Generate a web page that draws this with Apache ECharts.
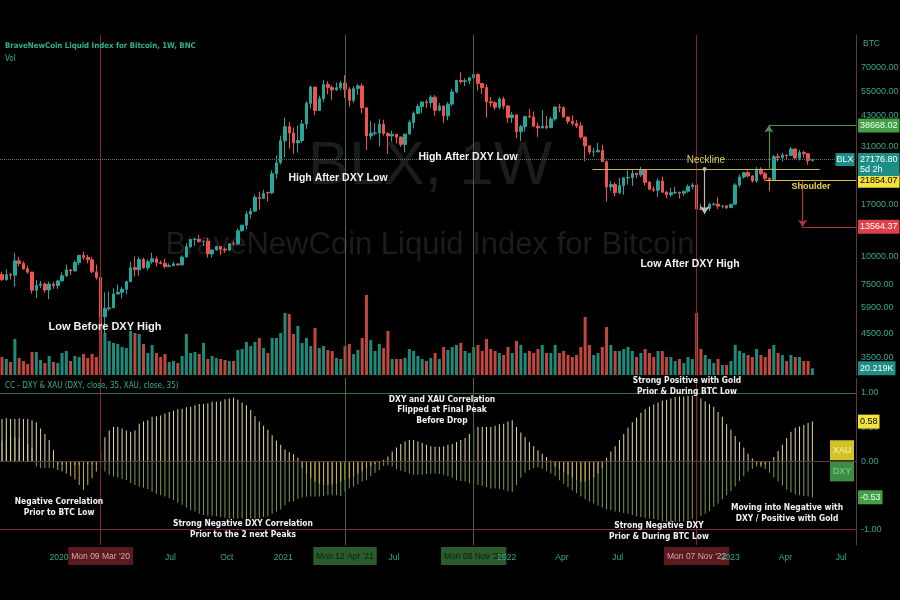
<!DOCTYPE html>
<html><head><meta charset="utf-8">
<script src="https://cdn.jsdelivr.net/npm/echarts@6.0.0/dist/echarts.min.js"></script>
<style>html,body{margin:0;padding:0;background:#000}#c{width:900px;height:600px}</style>
</head><body><div id="c"></div>
<script>
// ---------- DATA ----------
const firstWeek = '2019-09-30'; // weekly candles, Monday opens
// [open, high, low, close]
const ohlc = [
[8290,8540,7760,7860],[7860,8750,7780,8280],[8280,8420,7880,8230],[8230,10370,7300,9550],[9550,9940,9000,9300],
[9300,9500,8700,8800],[8800,9100,8350,8500],[8500,8500,6800,7050],[7050,7850,6500,7420],[7420,7750,7200,7510],
[7510,7620,6860,7070],[7070,7700,6430,7510],[7510,7700,7150,7390],[7390,7850,7140,7760],[7760,8480,7740,8180],
[8180,9190,8110,8700],[8700,8750,8250,8600],[8600,9570,8580,9380],[9380,10160,9150,10100],[10100,10500,9650,9900],
[9900,10180,9300,9650],[9650,9960,8420,8530],[8530,9190,7860,8040],[8040,8160,3850,5360],[5360,6900,4450,5830],
[5830,6970,5700,5880],[5880,7200,5860,6780],[6780,7470,6750,6900],[6900,7300,6470,7120],[7120,7770,6750,7700],
[7700,9470,7670,8900],[8900,10000,8130,8720],[8720,9950,8200,9680],[9680,9850,8800,8900],[8900,9700,8650,9450],
[9450,10380,9260,9750],[9750,9990,9000,9380],[9380,9590,9210,9290],[9290,9780,8830,9010],[9010,9310,8940,9080],
[9080,9460,9050,9250],[9250,9310,9030,9160],[9160,10120,9130,9930],[9930,11450,9900,11050],[11050,11900,10940,11900],
[11900,12080,11140,11910],[11910,12470,11520,11650],[11650,11790,11160,11700],[11700,12090,9880,10260],[10260,10770,9880,10680],
[10680,11170,10630,11080],[11080,11090,10140,10770],[10770,10960,10370,10670],[10670,11480,10530,11390],[11390,11720,11220,11370],
[11370,13350,11300,13030],[13030,13860,12900,13800],[13800,15960,13200,15480],[15480,16480,14800,15960],[15960,18960,15800,18400],
[18400,19480,16200,18190],[18190,19900,18100,19150],[19380,19420,17620,19270],[19270,24300,19000,23480],[23480,28400,22300,26280],
[26280,34800,25850,33000],[33000,41950,27700,38200],[38200,40100,30400,35800],[35800,37850,28900,32300],[32300,38550,29200,33100],
[33100,40950,32300,39250],[39250,49700,37350,48580],[48580,58350,46000,57490],[57490,57500,43000,45140],[45140,52650,44950,51000],
[51000,61800,49300,59000],[59000,61200,53300,57300],[57300,58420,50300,55800],[55800,60200,55400,57100],[57100,61300,55600,59900],
[59900,64850,51300,56200],[56200,57500,47000,50100],[50100,58000,48800,56600],[56600,59500,53000,58200],[58200,59600,43800,46400],
[46400,46600,30000,34700],[34700,40400,33400,35700],[35700,39500,34800,35800],[35800,41300,31100,39100],[39100,41000,34800,35600],
[35600,36000,28800,34700],[34700,36600,32700,35300],[35300,35300,32100,34300],[34300,34500,31000,31800],[31800,35400,29300,35400],
[35400,40900,35300,39900],[39900,44700,37500,43800],[43800,48100,43500,47000],[47000,49400,43900,49300],[49300,50500,46400,48900],
[48900,52900,46500,51800],[51800,52800,42800,45200],[45200,48800,44700,47300],[47300,47400,39600,42700],[42700,49200,40800,48200],
[48200,56500,47100,54700],[54700,62000,53900,61500],[61500,67000,59500,60900],[60900,63000,58000,61300],[61300,63500,59400,63300],
[63300,69000,62300,65500],[65500,66300,55600,59700],[59700,59900,53500,57200],[57200,59200,42000,49400],[49400,51900,47000,48900],
[48900,49500,45500,46700],[46700,51900,45600,50800],[50800,52000,45700,47300],[47300,47500,39700,41900],[41900,44400,39700,43100],
[43100,43500,34000,36300],[36300,38900,32900,38200],[38200,42600,36300,42400],[42400,45800,41700,42200],[42200,44700,38000,38400],
[38400,39800,34300,37700],[37700,45400,37500,38400],[38400,42600,37200,37800],[37800,42300,37600,41300],[41300,47000,40500,46800],
[46800,48200,44300,46400],[46400,47200,41900,42200],[42200,42400,39200,40400],[40400,42900,38600,39500],[39500,40800,37700,38500],
[38500,40000,33700,34300],[34300,34400,26700,31300],[31300,31400,28700,29400],[29400,30600,28000,29450],[29450,32300,29300,29900],
[29900,31700,26560,26600],[26600,26900,17600,20500],[20500,21800,19600,21000],[21000,21500,18600,19300],[19300,22500,19000,20800],
[20800,22600,18900,22500],[22500,24300,21000,22600],[22600,24600,20700,23600],[23600,23700,22400,23200],[23200,25200,22700,24400],
[24400,24500,20800,21500],[21500,21800,19800,20000],[20000,20600,19500,19800],[19800,22400,18500,21800],[21800,22800,19300,19400],
[19400,19700,18200,18900],[18900,20300,18500,19300],[19300,20500,19000,19400],[19400,19500,18200,19200],[19200,19700,18700,19600],
[19600,21000,19300,20600],[20600,21400,20000,20900],[20900,21000,15600,16300],[16300,17200,16200,16250],[16250,16800,15500,16400],
[16400,17400,16000,17100],[17100,17400,16900,17150],[17150,18400,16300,16800],[16800,16950,16400,16850],[16850,16900,16300,16550],
[16550,17200,16500,17130],[17130,21300,17100,20880],[20880,23300,20400,22700],[22700,23900,22300,23750],[23750,24300,22600,22950],
[22950,23100,21400,21800],[21800,25200,21400,24600],[24600,25100,23100,23500],[23500,23900,21900,22400],[22400,22600,19600,22100],
[22100,28500,21900,28000],[28000,28900,26600,27750],[27750,29200,26600,28450],[28450,28800,27300,28330],[28330,31000,28200,30300],
[30300,30500,27100,27600],[27600,30000,26950,29250],[29250,29800,27700,28900],[28900,29000,25800,26900],[26900,27400,26600,27176.8]
];
// weekly volume, thousands
const volumeK = [
54,48,39,108,51,42,33,69,69,45, 36,57,39,36,66,72,42,57,54,63,
51,63,54,225,126,102,96,93,84,81, 132,126,123,93,66,90,66,54,63,39,
42,36,57,123,66,69,63,96,48,57, 51,48,45,42,42,75,78,99,87,99,
111,81,66,111,111,126,186,183,123,147, 96,111,87,141,81,87,75,72,51,48,
87,93,63,75,111,240,105,72,93,81, 132,48,48,48,51,78,72,57,48,42,
51,66,48,84,75,84,90,96,72,66, 84,90,72,108,78,72,66,60,84,66,
102,90,66,72,66,78,90,66,66,90, 66,72,60,54,60,84,174,90,60,66,
84,144,90,72,72,78,84,72,54,66, 78,66,54,72,72,54,54,42,48,36,
54,48,186,78,60,48,36,48,30,30, 42,90,72,66,60,54,78,60,54,78,
90,66,60,42,60,54,54,42,42,20.219
];
// correlation coefficient BTC vs XAU and BTC vs DXY (35)
const corrXAU = [
0.62,0.63,0.62,0.62,0.63,0.62,0.62,0.60,0.57,0.48, 0.40,0.31,0.16,-0.13,-0.15,-0.18,-0.22,-0.27,-0.35,-0.42,
-0.35,-0.25,-0.15,0.16,0.35,0.45,0.50,0.50,0.48,0.45, 0.43,0.45,0.55,0.58,0.60,0.65,0.66,0.67,0.70,0.72,
0.74,0.76,0.77,0.79,0.80,0.82,0.84,0.84,0.85,0.87, 0.87,0.88,0.91,0.92,0.93,0.90,0.86,0.82,0.75,0.66,
0.58,0.52,0.46,0.38,0.30,0.24,0.17,0.13,0.10,0.05, -0.10,-0.18,-0.25,-0.30,-0.33,-0.35,-0.35,-0.34,-0.33,-0.30,
-0.28,-0.25,-0.22,-0.18,-0.14,-0.10,-0.07,-0.04,-0.02,0.02, 0.07,0.14,0.20,0.25,0.29,0.31,0.31,0.29,0.27,0.24,
0.22,0.21,0.21,0.22,0.24,0.25,0.28,0.31,0.34,0.40, 0.46,0.50,0.50,0.50,0.50,0.52,0.54,0.55,0.58,0.60,
0.50,0.42,0.35,0.28,0.22,0.16,0.11,0.06,0.01,-0.08, -0.12,-0.16,-0.20,-0.24,-0.27,-0.30,-0.30,-0.28,-0.24,-0.18,
-0.10,0.05,0.14,0.22,0.31,0.40,0.49,0.57,0.64,0.71, 0.76,0.80,0.83,0.86,0.89,0.90,0.92,0.94,0.95,0.95,
0.96,0.96,0.95,0.92,0.88,0.84,0.80,0.72,0.65,0.54, 0.46,0.37,0.28,0.20,0.11,0.04,-0.03,-0.06,-0.05,-0.02,
0.06,0.15,0.24,0.34,0.43,0.49,0.51,0.53,0.56,0.58
];
const corrDXY = [
0.30,0.32,0.35,0.35,0.33,0.30,0.25,0.20,-0.08,-0.10, -0.10,-0.10,-0.10,-0.05,-0.05,-0.05,-0.06,-0.06,-0.06,-0.06,
-0.05,-0.05,-0.05,-0.10,-0.15,-0.20,-0.22,-0.24,-0.26,-0.28, -0.32,-0.35,-0.37,-0.39,-0.41,-0.45,-0.48,-0.50,-0.52,-0.54,
-0.57,-0.61,-0.64,-0.68,-0.72,-0.74,-0.77,-0.79,-0.80,-0.80, -0.81,-0.82,-0.83,-0.84,-0.84,-0.84,-0.84,-0.84,-0.84,-0.84,
-0.84,-0.82,-0.81,-0.77,-0.74,-0.71,-0.65,-0.60,-0.59,-0.55, -0.53,-0.52,-0.52,-0.52,-0.52,-0.51,-0.50,-0.50,-0.50,-0.51,
-0.45,-0.40,-0.37,-0.34,-0.30,-0.28,-0.22,-0.17,-0.13,-0.07, -0.06,-0.08,-0.12,-0.14,-0.16,-0.18,-0.20,-0.20,-0.20,-0.19,
-0.18,-0.18,-0.19,-0.20,-0.22,-0.24,-0.28,-0.29,-0.30,-0.32, -0.34,-0.35,-0.36,-0.38,-0.40,-0.40,-0.41,-0.42,-0.44,-0.45,
-0.35,-0.24,-0.17,-0.13,-0.10,-0.09,-0.11,-0.14,-0.18,-0.22, -0.28,-0.33,-0.38,-0.43,-0.47,-0.52,-0.56,-0.59,-0.62,-0.65,
-0.68,-0.71,-0.72,-0.74,-0.75,-0.76,-0.77,-0.79,-0.81,-0.82, -0.83,-0.84,-0.85,-0.86,-0.88,-0.89,-0.89,-0.89,-0.89,-0.89,
-0.87,-0.85,-0.84,-0.81,-0.77,-0.73,-0.67,-0.62,-0.56,-0.50, -0.44,-0.37,-0.29,-0.22,-0.15,-0.11,-0.08,-0.09,-0.12,-0.17,
-0.24,-0.30,-0.36,-0.42,-0.46,-0.49,-0.50,-0.51,-0.52,-0.53
];
const priceTicks = [3500,4500,5900,7500,10000,17000,31000,43000,55000,70000];
const corrTicks = [1, 0.5, 0, -0.5, -1];
const timeTicks = ['2020-01-01','2020-07-01','2020-10-01','2021-01-01','2021-07-01','2022-01-01','2022-04-01','2022-07-01','2023-01-01','2023-04-01','2023-07-01'];
const timeTickLabels = ['2020','Jul','Oct','2021','Jul','2022','Apr','Jul','2023','Apr','Jul'];
const eventDates = ['2020-03-09','2021-04-12','2021-11-08','2022-11-07'];
const eventLabels = ["Mon 09 Mar '20","Mon 12 Apr '21","Mon 08 Nov '21","Mon 07 Nov '22"];
const eventKinds = ['red','green','green','red'];
const lastPrice = 27176.80, lastCountdown = '5d 2h', lastVolumeK = 20.219;
const necklinePrice = 24660, shoulderPrice = 21854.07, targetUp = 38668.02, targetDown = 13564.37, patternLow = 15500, upArrowBase = 24410;
const necklineDates = ['2022-05-21','2023-05-27'];
const shoulderStart = '2023-02-27', upArrowDate = '2023-03-05', downArrowDate = '2023-04-29', measureDate = '2022-11-20';
const lastXAU = 0.58, lastDXY = -0.53;

// ---------- BUILD ----------
const DAY = 86400000;
const ts = s => Date.parse(s + 'T00:00:00Z');
const t0 = ts(firstWeek);
const weeks = ohlc.map((_, i) => t0 + i * 7 * DAY);
const xMin = Date.UTC(2019, 8, 26, 17);
const xMax = Date.UTC(2023, 6, 25, 5);
const NARROW = "'DejaVu Sans Condensed','Liberation Sans Narrow',sans-serif";
const SANS = "'Liberation Sans','Arial',sans-serif";
const UP = '#26a69a', DOWN = '#ef5350';
const TEAL_TXT = '#35a88b';
const AXIS_LINE = '#5a3e33';
const CLEAR = 'rgba(0,0,0,0)';
const pMin = 2936, pMax = 98441;

const candleData = weeks.map((t, i) => [t, ohlc[i][0], ohlc[i][3], ohlc[i][2], ohlc[i][1]]);
const volData = weeks.map((t, i) => ({value: [t, volumeK[i]], itemStyle: {color: ohlc[i][3] >= ohlc[i][0] ? '#1f8a78' : '#c0473f'}}));
const xauData = weeks.map((t, i) => [t, corrXAU[i]]);
const dxyData = weeks.map((t, i) => [t, corrDXY[i]]);
const tickTs = timeTicks.map(ts);
const evTs = eventDates.map(ts);

const tagLabel = (bg, fg, text, extra) => Object.assign({show: true, position: 'end', distance: 2, formatter: text, backgroundColor: bg, color: fg,
  padding: [2, 2, 1, 2], fontSize: 9, fontFamily: SANS, lineHeight: 11}, extra || {});
const evColor = k => k === 'red' ? '#7c2630' : '#3b6e3b';
const vLinesTop = evTs.map((t, i) => ({xAxis: t, lineStyle: {color: evColor(eventKinds[i]), width: 1, type: 'solid'}, label: {show: false}}));
const vLinesBottom = evTs.map((t, i) => ({xAxis: t, lineStyle: {color: evColor(eventKinds[i]), width: 1, type: 'solid'},
  label: {show: true, position: 'start', distance: 2, formatter: eventLabels[i], fontSize: 8.5, fontFamily: SANS,
    padding: [5, 3, 4, 3], backgroundColor: eventKinds[i] === 'red' ? '#5a1a1e' : '#2b5a2c',
    color: eventKinds[i] === 'red' ? '#d9a7a7' : '#0d1f0d'}}));

const seg = (a, b, color, extra) => [Object.assign({coord: a, lineStyle: {color, width: 1.2, type: 'solid'}}, extra && extra[0] || {}),
                                      Object.assign({coord: b, lineStyle: {color, width: 1.2, type: 'solid'}}, extra && extra[1] || {})];

const option = {
  backgroundColor: '#000',
  animation: false,
  grid: [
    {left: 0, right: 44, top: 35, bottom: 225, containLabel: false, outerBoundsMode: 'none'},
    {left: 0, right: 44, top: 378, bottom: 55, containLabel: false, outerBoundsMode: 'none'}
  ],
  xAxis: [
    {type: 'value', gridIndex: 0, min: xMin, max: xMax, show: false, splitLine: {show: false}},
    {type: 'value', gridIndex: 1, min: xMin, max: xMax, z: 10,
      axisLine: {show: true, lineStyle: {color: AXIS_LINE}}, axisTick: {show: false}, splitLine: {show: false},
      axisLabel: {show: true, customValues: tickTs, margin: 8, fontFamily: SANS, fontSize: 8.5, color: TEAL_TXT,
        formatter: v => { const k = tickTs.indexOf(v); return k >= 0 ? timeTickLabels[k] : ''; }}}
  ],
  yAxis: [
    {type: 'log', gridIndex: 0, min: pMin, max: pMax, show: false, splitLine: {show: false}},
    {type: 'value', gridIndex: 0, position: 'right', min: Math.log10(pMin), max: Math.log10(pMax),
      axisLine: {show: true, lineStyle: {color: AXIS_LINE}}, axisTick: {show: false}, splitLine: {show: false},
      axisLabel: {customValues: priceTicks.map(Math.log10), margin: 5, color: TEAL_TXT, fontFamily: SANS, fontSize: 9,
        formatter: v => Math.round(Math.pow(10, v)).toFixed(2)}},
    {type: 'value', gridIndex: 0, min: 0, max: 1020, show: false, splitLine: {show: false}},
    {type: 'value', gridIndex: 1, position: 'right', min: -1.23, max: 1.22,
      axisLine: {show: true, lineStyle: {color: AXIS_LINE}}, axisTick: {show: false}, splitLine: {show: false},
      axisLabel: {customValues: corrTicks, margin: 5, color: TEAL_TXT, fontFamily: SANS, fontSize: 9,
        formatter: v => v.toFixed(2)}}
  ],
  series: [
    {type: 'bar', name: 'Vol', xAxisIndex: 0, yAxisIndex: 2, data: volData, barWidth: 3, z: 1,
      markLine: {silent: true, symbol: 'none', animation: false,
        data: [{yAxis: lastVolumeK, lineStyle: {color: CLEAR, width: 0}, label: tagLabel('#1e8e84', '#ffffff', lastVolumeK.toFixed(3) + 'K')}]}},
    {type: 'candlestick', name: 'BLX', xAxisIndex: 0, yAxisIndex: 0, data: candleData, barWidth: 3, z: 3,
      itemStyle: {color: UP, color0: DOWN, borderColor: UP, borderColor0: DOWN, borderWidth: 1},
      markLine: {silent: true, symbol: 'none', animation: false, precision: 2,
        data: [
          ...vLinesTop,
          seg([ts(necklineDates[0]), necklinePrice], [ts(necklineDates[1]), necklinePrice], '#c2b94a'),
          seg([ts(shoulderStart), shoulderPrice], [xMax, shoulderPrice], '#d6c437',
            [{label: tagLabel('#f2e23c', '#000', shoulderPrice.toFixed(2))}, {label: tagLabel('#f2e23c', '#000', shoulderPrice.toFixed(2))}]),
          seg([ts(upArrowDate), upArrowBase], [ts(upArrowDate), targetUp], '#4f8f55', [{}, {symbol: 'arrow', symbolSize: 7}]),
          seg([ts(upArrowDate), targetUp], [xMax, targetUp], '#4f8f55',
            [{label: tagLabel('#43a047', '#f0fff0', targetUp.toFixed(2))}, {label: tagLabel('#43a047', '#f0fff0', targetUp.toFixed(2))}]),
          seg([ts(downArrowDate), shoulderPrice], [ts(downArrowDate), targetDown], '#b0363c', [{}, {symbol: 'arrow', symbolSize: 7}]),
          seg([ts(downArrowDate), targetDown], [xMax, targetDown], '#b0363c',
            [{label: tagLabel('#e0404a', '#ffffff', targetDown.toFixed(2))}, {label: tagLabel('#e0404a', '#ffffff', targetDown.toFixed(2))}]),
          seg([ts(measureDate), necklinePrice], [ts(measureDate), patternLow], '#b8b8b8',
            [{symbol: 'circle', symbolSize: 4}, {symbol: 'arrow', symbolSize: 8}]),
          {yAxis: lastPrice, lineStyle: {color: '#4d7c74', type: 'dotted', width: 1},
            label: tagLabel('#1e8e84', '#ffffff', lastPrice.toFixed(2) + '\n' + lastCountdown, {offset: [0, 5], lineHeight: 10.5, padding: [2, 2, 0, 2]})}
        ]},
      markPoint: {silent: true, animation: false,
        data: [{coord: [xMax, lastPrice], symbol: 'rect', symbolSize: [19, 13], symbolOffset: [-11, 0],
          itemStyle: {color: '#1e8e84'}, label: {show: true, position: 'inside', formatter: 'BLX', color: '#e6fffb', fontSize: 9, fontFamily: SANS}}]}},
    {type: 'bar', name: 'DXY', xAxisIndex: 1, yAxisIndex: 3, data: dxyData, barWidth: 1, barGap: '-100%', z: 2,
      itemStyle: {color: '#7f9a4f'}},
    {type: 'bar', name: 'XAU', xAxisIndex: 1, yAxisIndex: 3, data: xauData, barWidth: 1, barGap: '-100%', z: 3,
      itemStyle: {color: p => p.value[1] >= 0 ? '#e0d9a2' : '#cbb04a'}},
    {type: 'line', name: 'markers', xAxisIndex: 1, yAxisIndex: 3, data: [], z: 4, silent: true,
      markLine: {silent: true, symbol: 'none', animation: false,
        data: [
          ...vLinesBottom,
          {yAxis: 1, lineStyle: {color: '#3d6e45', width: 1, type: 'solid'}, label: {show: false}},
          {yAxis: -1, lineStyle: {color: '#7a2b2b', width: 1, type: 'solid'}, label: {show: false}},
          {yAxis: 0, lineStyle: {color: '#bdbdbd', width: 1, type: [3, 3]}, label: {show: false}},
          {yAxis: lastXAU, lineStyle: {color: CLEAR, width: 0}, label: tagLabel('#f2e23c', '#000', lastXAU.toFixed(2))},
          {yAxis: lastDXY, lineStyle: {color: CLEAR, width: 0}, label: tagLabel('#43a047', '#f0fff0', lastDXY.toFixed(2))}
        ]},
      markPoint: {silent: true, animation: false,
        data: [
          {coord: [xMax, 0.16], symbol: 'rect', symbolSize: [24, 20], symbolOffset: [-14, 0], itemStyle: {color: '#d2c22a'},
            label: {show: true, position: 'inside', formatter: 'XAU', color: '#fff6b0', fontSize: 9, fontFamily: SANS}},
          {coord: [xMax, -0.15], symbol: 'rect', symbolSize: [24, 20], symbolOffset: [-14, 0], itemStyle: {color: '#3e8d44'},
            label: {show: true, position: 'inside', formatter: 'DXY', color: '#8fd08f', fontSize: 9, fontFamily: SANS}}
        ]}}
  ],
  graphic: {elements: [
    {type: 'text', z: 0, x: 430, y: 167, style: {text: 'BLX, 1W', fill: '#1c1c1c', font: "62px " + SANS, align: 'center', verticalAlign: 'middle'}},
    {type: 'text', z: 0, x: 430, y: 245, style: {text: 'BraveNewCoin Liquid Index for Bitcoin', fill: '#1c1c1c', font: "31px " + SANS, align: 'center', verticalAlign: 'middle'}},
    {type: 'text', z: 50, x: 5, y: 46, style: {text: 'BraveNewCoin Liquid Index for Bitcoin, 1W, BNC', fill: '#2fb38f', font: "bold 7.8px " + NARROW, verticalAlign: 'middle'}},
    {type: 'text', z: 50, x: 5, y: 59, style: {text: 'Vol', fill: '#2fb38f', font: "8px " + NARROW, verticalAlign: 'middle'}},
    {type: 'text', z: 50, x: 5, y: 386, style: {text: 'CC - DXY & XAU (DXY, close, 35, XAU, close, 35)', fill: '#2fb38f', font: "8px " + NARROW, verticalAlign: 'middle'}},
    {type: 'text', z: 50, x: 863, y: 44, style: {text: 'BTC', fill: TEAL_TXT, font: "8.5px " + SANS, verticalAlign: 'middle'}},
    {type: 'text', z: 50, x: 105, y: 327, style: {text: 'Low Before DXY High', fill: '#f2f2f2', font: "bold 11px " + SANS, align: 'center', verticalAlign: 'middle'}},
    {type: 'text', z: 50, x: 338, y: 178, style: {text: 'High After DXY Low', fill: '#f2f2f2', font: "bold 10.5px " + SANS, align: 'center', verticalAlign: 'middle'}},
    {type: 'text', z: 50, x: 468, y: 157, style: {text: 'High After DXY Low', fill: '#f2f2f2', font: "bold 10.5px " + SANS, align: 'center', verticalAlign: 'middle'}},
    {type: 'text', z: 50, x: 690, y: 264, style: {text: 'Low After DXY High', fill: '#f2f2f2', font: "bold 10.5px " + SANS, align: 'center', verticalAlign: 'middle'}},
    {type: 'text', z: 50, x: 706, y: 160, style: {text: 'Neckline', fill: '#e3d64a', font: "10px " + SANS, align: 'center', verticalAlign: 'middle'}},
    {type: 'text', z: 50, x: 811, y: 187, style: {text: 'Shoulder', fill: '#e3d64a', font: "bold 9px " + SANS, align: 'center', verticalAlign: 'middle'}},
    {type: 'text', z: 50, x: 59, y: 507, style: {text: 'Negative Correlation\nPrior to BTC Low', fill: '#f2f2f2', font: "bold 8.4px " + NARROW, lineHeight: 11, align: 'center', verticalAlign: 'middle'}},
    {type: 'text', z: 50, x: 243, y: 529, style: {text: 'Strong Negative DXY Correlation\nPrior to the 2 next Peaks', fill: '#f2f2f2', font: "bold 8.4px " + NARROW, lineHeight: 11, align: 'center', verticalAlign: 'middle'}},
    {type: 'text', z: 50, x: 442, y: 410, style: {text: 'DXY and XAU Correlation\nFlipped at Final Peak\nBefore Drop', fill: '#f2f2f2', font: "bold 8.4px " + NARROW, lineHeight: 10.5, align: 'center', verticalAlign: 'middle'}},
    {type: 'text', z: 50, x: 687, y: 386, style: {text: 'Strong Positive with Gold\nPrior & During BTC Low', fill: '#f2f2f2', font: "bold 8.4px " + NARROW, lineHeight: 11, align: 'center', verticalAlign: 'middle'}},
    {type: 'text', z: 50, x: 659, y: 531, style: {text: 'Strong Negative DXY\nPrior & During BTC Low', fill: '#f2f2f2', font: "bold 8.4px " + NARROW, lineHeight: 11, align: 'center', verticalAlign: 'middle'}},
    {type: 'text', z: 50, x: 787, y: 513, style: {text: 'Moving into Negative with\nDXY / Positive with Gold', fill: '#f2f2f2', font: "bold 8.4px " + NARROW, lineHeight: 11, align: 'center', verticalAlign: 'middle'}}
  ]}
};
const chart = echarts.init(document.getElementById('c'), null, {renderer: 'canvas', width: 900, height: 600});
chart.setOption(option);
</script>
</body></html>
